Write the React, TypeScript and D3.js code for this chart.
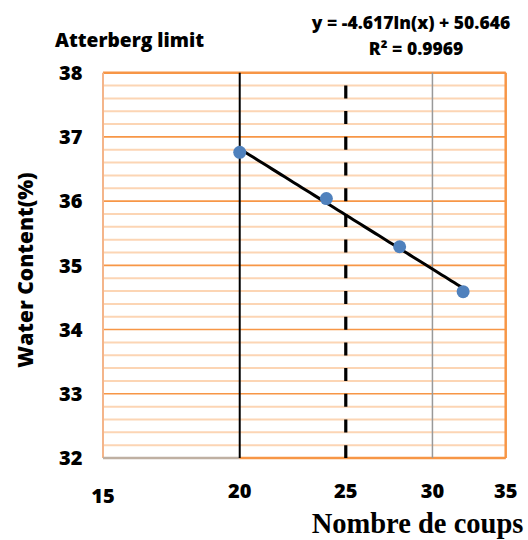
import React from "react";
import * as d3 from "d3";

const xTicks = [15, 20, 25, 30, 35];
const yTicks = [32, 33, 34, 35, 36, 37, 38];
const blows = [20, 24, 28, 32];
const waterContent = [36.76, 36.04, 35.29, 34.59];
const trendA = -4.617;
const trendB = 50.646;
const trendRange = [20, 32];
const solidLineAt = [20];
const dashedLineAt = [25];
const greyLineAt = [30];

const W = 528;
const H = 540;
const M = { left: 103, right: 505.7, top: 72.7, bottom: 458 };
const FONT = "'Open Sans', sans-serif";
const WEIGHT = 800;

export default function App() {
  const x = d3.scaleLog().domain([15, 35]).range([M.left, M.right]);
  const y = d3.scaleLinear().domain([32, 38]).range([M.bottom, M.top]);
  const minor = d3.range(32, 38.001, 0.2).filter((v) => Math.abs(v - Math.round(v)) > 0.01);
  const trendPts = d3.range(0, 61).map((i) => {
    const xv = trendRange[0] + ((trendRange[1] - trendRange[0]) * i) / 60;
    return [xv, trendA * Math.log(xv) + trendB] as [number, number];
  });
  const line = d3
    .line<[number, number]>()
    .x((d) => x(d[0]))
    .y((d) => y(d[1]));

  return (
    <svg width={W} height={H} style={{ position: "absolute", left: 0, top: 0 }}>
      <rect width={W} height={H} fill="#fff" />
      {minor.map((v) => (
        <line key={"m" + v} x1={M.left} x2={M.right} y1={y(v)} y2={y(v)} stroke="#FCD5B4" strokeWidth={2} />
      ))}
      {yTicks.map((v) => (
        <line key={"M" + v} x1={M.left} x2={M.right} y1={y(v)} y2={y(v)} stroke="#F79646" strokeWidth={1.6} />
      ))}
      <line x1={M.left} x2={M.right} y1={M.top} y2={M.top} stroke="#F79646" strokeWidth={2.5} />
      <line x1={M.right} x2={M.right} y1={M.top} y2={M.bottom} stroke="#F79646" strokeWidth={2.5} />
      <line x1={M.left} x2={M.left} y1={M.top} y2={M.bottom} stroke="#F4B58A" strokeWidth={2} />
      <line x1={M.left} x2={x(20)} y1={M.bottom} y2={M.bottom} stroke="#BFB0A2" strokeWidth={2.5} />
      <line x1={x(20)} x2={M.right} y1={M.bottom} y2={M.bottom} stroke="#F79646" strokeWidth={2.5} />
      {greyLineAt.map((v) => (
        <line key={"g" + v} x1={x(v)} x2={x(v)} y1={M.top} y2={M.bottom} stroke="#999" strokeWidth={1.5} />
      ))}
      {solidLineAt.map((v) => (
        <line key={"s" + v} x1={x(v)} x2={x(v)} y1={M.top} y2={M.bottom} stroke="#000" strokeWidth={2} />
      ))}
      {dashedLineAt.map((v) => (
        <line
          key={"d" + v}
          x1={x(v)}
          x2={x(v)}
          y1={M.top}
          y2={M.bottom}
          stroke="#000"
          strokeWidth={3.2}
          strokeDasharray="13 12.7"
          strokeDashoffset={13}
        />
      ))}
      <path d={line(trendPts) || ""} fill="none" stroke="#000" strokeWidth={3} />
      {blows.map((b, i) => (
        <circle key={"p" + i} cx={x(b)} cy={y(waterContent[i])} r={6.5} fill="#4F81BD" />
      ))}
      {yTicks.map((v) => (
        <text key={"yt" + v} x={82.5} y={y(v)} dy="0.36em" textAnchor="end" fontFamily={FONT} fontWeight={WEIGHT} fontSize={20} fill="#000">
          {v}
        </text>
      ))}
      {xTicks.map((v, i) => (
        <text key={"xt" + v} x={x(v)} y={M.bottom + 40 + (i === 0 ? 5 : 0)} textAnchor="middle" fontFamily={FONT} fontWeight={WEIGHT} fontSize={20} fill="#000">
          {v}
        </text>
      ))}
      <text x={55} y={46.5} textLength={149} lengthAdjust="spacingAndGlyphs" fontFamily={FONT} fontWeight={WEIGHT} fontSize={20} fill="#000">
        Atterberg limit
      </text>
      <text x={411} y={29} textAnchor="middle" fontFamily={FONT} fontWeight={WEIGHT} fontSize={17.5} fill="#000">
        y = -4.617ln(x) + 50.646
      </text>
      <text x={416} y={55} textAnchor="middle" fontFamily={FONT} fontWeight={WEIGHT} fontSize={17.5} fill="#000">
        R² = 0.9969
      </text>
      <text
        transform={`translate(33,270) rotate(-90)`}
        textAnchor="middle"
        fontFamily={FONT}
        fontWeight={WEIGHT}
        fontSize={21}
        fill="#000"
      >
        Water Content(%)
      </text>
      <text x={417.5} y={533} textAnchor="middle" fontFamily="'Liberation Serif', 'Times New Roman', serif" fontWeight="bold" fontSize={28.5} fill="#000">
        Nombre de coups
      </text>
    </svg>
  );
}
